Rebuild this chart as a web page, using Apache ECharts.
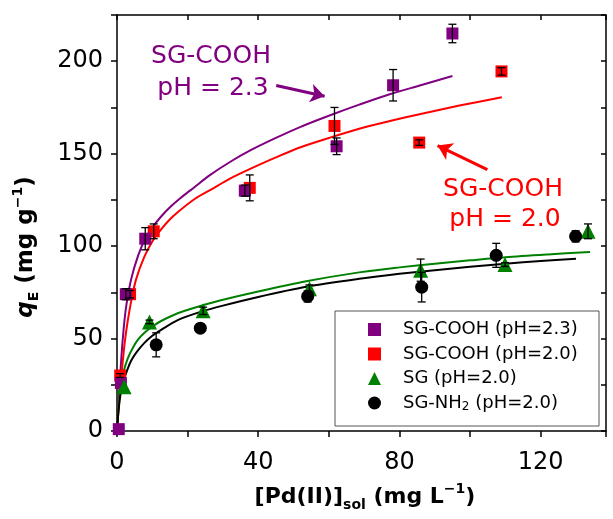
<!DOCTYPE html>
<html>
<head>
<meta charset="utf-8">
<script src="https://cdn.jsdelivr.net/npm/echarts@6/dist/echarts.min.js"></script>
<style>
  html, body { margin: 0; padding: 0; background: #fff; }
  #main { width: 613px; height: 519px; }
</style>
</head>
<body>
<div id="main"></div>
<script>
// values
const xTicks = [0, 40, 80, 120]
const yTicks = [0, 50, 100, 150, 200]

const names = ['SG-COOH (pH=2.3)', 'SG-COOH (pH=2.0)', 'SG (pH=2.0)', 'SG-NH2 (pH=2.0)']

// measured points
const cooh23X = [0.5, 1.1, 2.5, 8, 36.2, 62.2, 78.2, 95]
const cooh23Y = [1, 26, 74, 104, 130, 154, 187, 215]
const cooh23Err = [0, 0, 3, 6, 3, 4.5, 8.5, 5]

const cooh20X = [0.9, 3.7, 10.4, 37.6, 61.6, 85.6, 108.9]
const cooh20Y = [30, 74, 108, 131.5, 165, 156, 194.5]
const cooh20Err = [1, 2, 4, 7, 10, 1.5, 2]

const sgX = [2, 9.2, 24.4, 54.5, 86, 109.9, 133.4]
const sgY = [24, 59, 65, 77, 87, 90, 108]
const sgErr = [0, 1, 2, 2, 6, 1, 4]

const nh2X = [11.1, 23.6, 54, 86.3, 107.4, 129.9]
const nh2Y = [46.6, 55.6, 72.8, 77.8, 95, 105.3]
const nh2Err = [6.5, 1, 3, 8, 6.5, 3]

// fitted curves
const cooh23FitX = [0, 0.3, 0.65, 1, 1.6, 2.5, 4, 6, 8, 10, 12.5, 15, 18, 22, 26, 32, 38, 45, 52, 60, 68.6, 77, 86, 95]
const cooh23FitY = [0, 11, 23, 33, 49, 66, 82, 95, 104, 110, 116, 121, 126, 132, 138, 145.5, 152, 158.5, 164.5, 170.5, 176.5, 182, 187, 192]

const cooh20FitX = [0, 0.3, 0.65, 1, 1.6, 2.2, 3, 4, 5.4, 7.7, 10, 12.5, 15, 17.6, 22, 27, 32, 38, 45, 52, 60, 68.6, 77, 86, 97, 109]
const cooh20FitY = [0, 8, 17, 25, 37, 48, 59, 70, 82, 94, 102.5, 109, 114.5, 119, 125.5, 131, 136.5, 142, 148, 153.5, 158.5, 163.5, 167.5, 171.5, 176, 180.5]

const sgFitX = [0, 0.3, 0.6, 1.1, 2, 3, 4.5, 6, 7.7, 10, 12.5, 17.2, 23.8, 30, 40, 53.6, 68.6, 80, 90, 100, 110, 122, 134]
const sgFitY = [0, 10, 17, 25, 33, 39, 45, 49.5, 53, 56.5, 59.5, 63.7, 67.7, 71, 75.5, 81, 85.8, 88.5, 90.5, 92.3, 94, 95.5, 96.8]

const nh2FitX = [0, 0.3, 0.6, 1.1, 2, 3, 4, 5.5, 7.7, 10, 12.5, 17.2, 23.8, 30, 40, 53.6, 68.6, 80, 90, 100, 110, 120, 130]
const nh2FitY = [0, 8, 14, 21, 28, 33.5, 38, 42.5, 47.5, 51.5, 54.7, 60, 64.5, 67.8, 72.5, 78, 82.3, 85, 87, 88.8, 90.5, 92, 93.2]

// annotation arrows [x, y] start -> end
const arrow23 = [[45.1, 186.9], [58.8, 181.1]]
const arrow20 = [[104.9, 141.4], [90.8, 154.4]]

const FONT = 'DejaVu Sans'
const PURPLE = '#800080'
const RED = '#ff0000'
const GREEN = '#008000'

function pairs(xs, ys) {
  return xs.map((x, i) => [x, ys[i]])
}

function errorBars(xs, ys, errs) {
  const data = []
  xs.forEach((x, i) => {
    if (errs[i] > 0) data.push([x, ys[i] - errs[i], ys[i] + errs[i]])
  })
  return {
    type: 'custom',
    data: data,
    z: 6,
    silent: true,
    encode: { x: 0, y: [1, 2] },
    renderItem: function (params, api) {
      const lo = api.coord([api.value(0), api.value(1)])
      const hi = api.coord([api.value(0), api.value(2)])
      const w = 4
      const st = { stroke: '#000', lineWidth: 1.3 }
      return {
        type: 'group',
        children: [
          { type: 'line', shape: { x1: lo[0], y1: lo[1], x2: hi[0], y2: hi[1] }, style: st },
          { type: 'line', shape: { x1: lo[0] - w, y1: lo[1], x2: lo[0] + w, y2: lo[1] }, style: st },
          { type: 'line', shape: { x1: hi[0] - w, y1: hi[1], x2: hi[0] + w, y2: hi[1] }, style: st }
        ]
      }
    }
  }
}

function fitLine(xs, ys, color) {
  return {
    type: 'line',
    data: pairs(xs, ys),
    showSymbol: false,
    smooth: 0.3,
    silent: true,
    z: 2,
    lineStyle: { color: color, width: 2 }
  }
}

function points(name, xs, ys, symbol, size, color) {
  return {
    name: name,
    type: 'scatter',
    data: pairs(xs, ys),
    symbol: symbol,
    symbolSize: size,
    z: 4,
    itemStyle: { color: color, opacity: 1 }
  }
}

const myChart = echarts.init(document.getElementById('main'))

const axisLine = { show: true, onZero: false, lineStyle: { color: '#000', width: 1.5 } }

const option = {
  animation: false,
  backgroundColor: '#fff',
  grid: { left: 117, right: 7, top: 15, bottom: 88, outerBoundsMode: 'none' },
  xAxis: [
    {
      type: 'value', min: 0, max: 138.5, interval: 20, position: 'bottom',
      axisLine: axisLine,
      axisTick: { show: true, inside: false, length: 6, lineStyle: { color: '#000', width: 1.5 } },
      axisLabel: {
        fontSize: 24, fontFamily: FONT, color: '#000', margin: 20,
        formatter: v => xTicks.includes(v) ? String(v) : ''
      },
      splitLine: { show: false }
    },
    {
      type: 'value', min: 0, max: 138.5, interval: 20, position: 'top',
      axisLine: axisLine,
      axisTick: { show: true, inside: true, length: 5, lineStyle: { color: '#000', width: 1.5 } },
      axisLabel: { show: false },
      splitLine: { show: false }
    }
  ],
  yAxis: [
    {
      type: 'value', min: 0, max: 225, interval: 25, position: 'left',
      axisLine: axisLine,
      axisTick: { show: true, inside: false, length: 6, lineStyle: { color: '#000', width: 1.5 } },
      axisLabel: {
        fontSize: 24, fontFamily: FONT, color: '#000', margin: 14,
        formatter: v => yTicks.includes(v) ? String(v) : ''
      },
      splitLine: { show: false }
    },
    {
      type: 'value', min: 0, max: 225, interval: 25, position: 'right',
      axisLine: axisLine,
      axisTick: { show: true, inside: true, length: 5, lineStyle: { color: '#000', width: 1.5 } },
      axisLabel: { show: false },
      splitLine: { show: false }
    }
  ],
  legend: {
    orient: 'vertical',
    left: 368,
    top: 320,
    padding: 0,
    itemWidth: 13,
    itemHeight: 13,
    itemGap: 5.5,
    data: names,
    formatter: function (name) {
      return name.replace('NH2', 'NH{sub|2}')
    },
    textStyle: {
      fontSize: 18, fontFamily: FONT, color: '#000', lineHeight: 19, padding: [0, 0, 0, 17],
      rich: {
        sub: { fontSize: 12, fontFamily: FONT, color: '#000', lineHeight: 10, verticalAlign: 'bottom' }
      }
    }
  },
  graphic: [
    { type: 'rect', shape: { x: 335, y: 311, width: 264, height: 115 }, style: { fill: 'none', stroke: '#555', lineWidth: 1 }, z: 1 },
    { type: 'text', x: 211, y: 56, style: { text: 'SG-COOH', fill: PURPLE, font: '25px "DejaVu Sans"', textAlign: 'center', textVerticalAlign: 'middle' } },
    { type: 'text', x: 213, y: 88, style: { text: 'pH = 2.3', fill: PURPLE, font: '25px "DejaVu Sans"', textAlign: 'center', textVerticalAlign: 'middle' } },
    { type: 'text', x: 503, y: 189, style: { text: 'SG-COOH', fill: RED, font: '25px "DejaVu Sans"', textAlign: 'center', textVerticalAlign: 'middle' } },
    { type: 'text', x: 505, y: 219, style: { text: 'pH = 2.0', fill: RED, font: '25px "DejaVu Sans"', textAlign: 'center', textVerticalAlign: 'middle' } },
    {
      type: 'text', x: 365, y: 497,
      style: {
        text: '{b|[Pd(II)]}{sub|sol}{b| (mg L}{sup|\u22121}{b|)}',
        textAlign: 'center', textVerticalAlign: 'middle', fill: '#000',
        rich: {
          b: { fontSize: 22, fontWeight: 'bold', fontFamily: FONT, lineHeight: 30 },
          sub: { fontSize: 14, fontWeight: 'bold', fontFamily: FONT, lineHeight: 14, verticalAlign: 'bottom' },
          sup: { fontSize: 14, fontWeight: 'bold', fontFamily: FONT, lineHeight: 14, verticalAlign: 'top' }
        }
      }
    },
    {
      type: 'text', x: 26, y: 247, rotation: Math.PI / 2,
      style: {
        text: '{qi|q}{sub|E}{b| (mg g}{sup|\u22121}{b|)}',
        textAlign: 'center', textVerticalAlign: 'middle', fill: '#000',
        rich: {
          b: { fontSize: 23, fontWeight: 'bold', fontFamily: FONT, lineHeight: 30 },
          qi: { fontSize: 23, fontWeight: 'bold', fontStyle: 'italic', fontFamily: FONT, lineHeight: 30 },
          sub: { fontSize: 14, fontWeight: 'bold', fontFamily: FONT, lineHeight: 14, verticalAlign: 'bottom' },
          sup: { fontSize: 14, fontWeight: 'bold', fontFamily: FONT, lineHeight: 14, verticalAlign: 'top' }
        }
      }
    }
  ],
  series: [
    fitLine(cooh23FitX, cooh23FitY, PURPLE),
    fitLine(cooh20FitX, cooh20FitY, RED),
    fitLine(sgFitX, sgFitY, GREEN),
    fitLine(nh2FitX, nh2FitY, '#000'),
    points(names[1], cooh20X, cooh20Y, 'rect', 12, RED),
    points(names[0], cooh23X, cooh23Y, 'rect', 12, PURPLE),
    points(names[2], sgX, sgY, 'triangle', 15, GREEN),
    points(names[3], nh2X, nh2Y, 'circle', 13, '#000'),
    errorBars(cooh23X, cooh23Y, cooh23Err),
    errorBars(cooh20X, cooh20Y, cooh20Err),
    errorBars(sgX, sgY, sgErr),
    errorBars(nh2X, nh2Y, nh2Err),
    {
      type: 'lines', coordinateSystem: 'cartesian2d', silent: true, z: 5,
      symbol: ['none', 'arrow'], symbolSize: 14,
      lineStyle: { color: PURPLE, width: 3, opacity: 1 },
      data: [{ coords: arrow23 }]
    },
    {
      type: 'lines', coordinateSystem: 'cartesian2d', silent: true, z: 5,
      symbol: ['none', 'arrow'], symbolSize: 14,
      lineStyle: { color: RED, width: 3, opacity: 1 },
      data: [{ coords: arrow20 }]
    }
  ]
}

myChart.setOption(option)
window.addEventListener('resize', function () {
  myChart.resize()
})
</script>
</body>
</html>
